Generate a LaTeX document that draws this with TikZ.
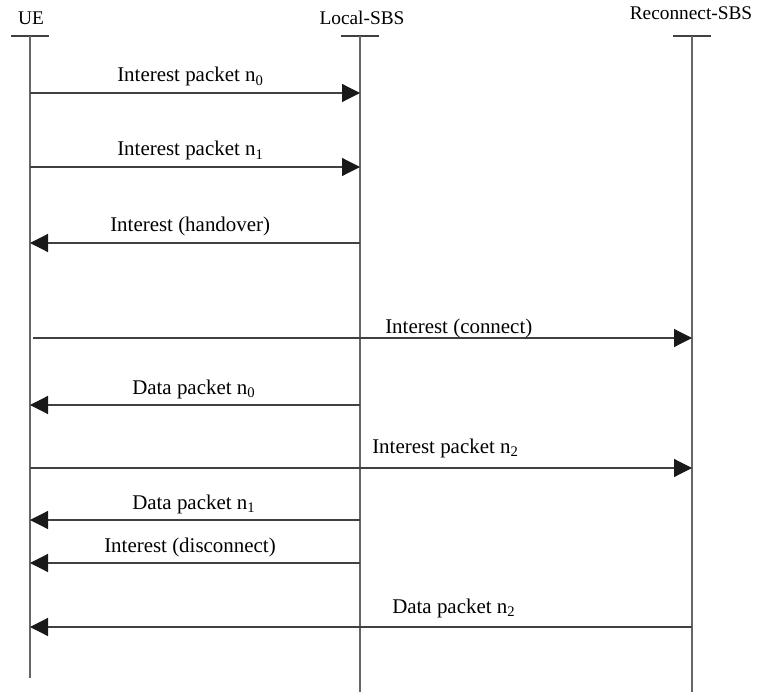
\documentclass[tikz,border=0pt]{standalone}
\usepackage{fontspec}
\setmainfont{Liberation Serif}
\usetikzlibrary{arrows.meta}

\begin{document}
\begin{tikzpicture}[x=0.75pt, y=-0.75pt]
    \tikzset{
      lifeline/.style={line width=1.1pt, draw=black!60},
      headbar/.style={line width=1pt, draw=black!75},
      message/.style={line width=0.9pt, draw=black!75, -{Triangle[length=13.5pt, width=13.5pt, color=black!90]}},
      party/.style={anchor=base, inner sep=0pt, font=\fontsize{14.5}{17}\selectfont},
      msgtext/.style={anchor=base west, inner sep=0pt, font=\fontsize{15.7}{18}\selectfont},
    }
    \useasboundingbox (0,0) rectangle (758,692);

    % participants
    \node [party] (ue) at (31,25) {UE};
    \node [party] (local) at (362,25) {Local-SBS};
    \node [party] (reconnect) at (691,20) {Reconnect-SBS};

    \foreach \party/\x/\bot in {ue/30/678, local/360/692, reconnect/692/692} {
      \coordinate (\party-top) at (\x,36);
      \coordinate (\party-bot) at (\x,\bot);
      \coordinate (\party-barl) at (\x-19,36);
      \coordinate (\party-barr) at (\x+19,36);
      \draw [headbar] (\party-barl) -- (\party-barr);
      \draw [lifeline] (\party-top) -- (\party-bot);
    }

    % message levels
    \foreach \n/\y in {1/93, 2/167, 3/243, 4/338, 5/405, 6/468, 7/520, 8/563, 9/627} {
      \coordinate (ue-\n) at (30,\y);
      \coordinate (local-\n) at (360,\y);
      \coordinate (reconnect-\n) at (692,\y);
    }
    \coordinate (ue-4s) at (33,338);

    \draw [message] (ue-1) -- (local-1);
    \draw [message] (ue-2) -- (local-2);
    \draw [message] (local-3) -- (ue-3);
    \draw [message] (ue-4s) -- (reconnect-4);
    \draw [message] (local-5) -- (ue-5);
    \draw [message] (ue-6) -- (reconnect-6);
    \draw [message] (local-7) -- (ue-7);
    \draw [message] (local-8) -- (ue-8);
    \draw [message] (reconnect-9) -- (ue-9);

    % labels
    \node [msgtext] (m1) at (117,82) {Interest packet n\textsubscript{0}};
    \node [msgtext] (m2) at (117,156) {Interest packet n\textsubscript{1}};
    \node [msgtext] (m3) at (110,232) {Interest (handover)};
    \node [msgtext] (m4) at (385,333) {Interest (connect)};
    \node [msgtext] (m5) at (132,394) {Data packet n\textsubscript{0}};
    \node [msgtext] (m6) at (372,453) {Interest packet n\textsubscript{2}};
    \node [msgtext] (m7) at (132,509) {Data packet n\textsubscript{1}};
    \node [msgtext] (m8) at (104,552) {Interest (disconnect)};
    \node [msgtext] (m9) at (392,613) {Data packet n\textsubscript{2}};
\end{tikzpicture}
\end{document}
